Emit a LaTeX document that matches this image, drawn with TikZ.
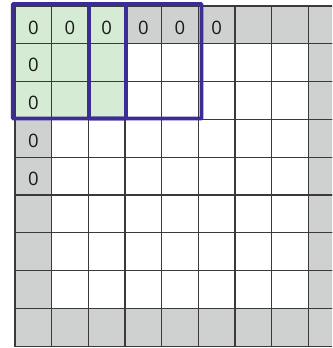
\documentclass[tikz,border=0pt]{standalone}
\usepackage{fontspec}
\setmainfont{Open Sans}
\definecolor{padgray}{HTML}{CFD1D1}
\definecolor{kergreen}{HTML}{D5EBD3}
\definecolor{winblue}{HTML}{3A2D96}
\definecolor{gridline}{HTML}{3A3A3A}

\begin{document}
\begin{tikzpicture}[
    x=1pt, y=-1pt,
    every node/.style={font=\fontsize{18.5}{18.5}\selectfont},
    cell/.style={draw=gridline, line width=1.3pt},
    zero/.style={inner sep=0pt, text=black!90},
    win/.style={draw=winblue, line width=3.8pt, rounded corners=0.8pt},
]
\useasboundingbox (0,0) rectangle (332,348);
\clip (0,0) rectangle (332,348);

% ============================================================ the padded grid
\foreach \i in {0,...,8}{
  \foreach \j in {0,...,8}{
    \pgfmathsetmacro{\xa}{15+36.66*\i}
    \pgfmathsetmacro{\ya}{6+37.8*\j}
    \ifnum\i=0 \def\fc{padgray}\else
      \ifnum\i=8 \def\fc{padgray}\else
        \ifnum\j=0 \def\fc{padgray}\else
          \ifnum\j=8 \def\fc{padgray}\else \def\fc{white}\fi
        \fi
      \fi
    \fi
    \ifnum\i<3 \ifnum\j<3 \def\fc{kergreen}\fi\fi
    \filldraw[cell, fill=\fc] (\xa,\ya) rectangle ++(36.66,37.8);
  }
}

% zeros along the top row and the left column
\foreach \i in {0,...,5}{
  \node[zero] (top-\i) at ({33.33+36.66*\i}, 27.5) {0};
}
\foreach \j in {1,...,4}{
  \node[zero] (left-\j) at (33.33, {27.5+37.8*\j}) {0};
}

% ============================================================ two window positions
\draw[win] (12.8,4) rectangle (126,118.5);
\draw[win] (89,4) rectangle (201.5,118.5);

\end{tikzpicture}
\end{document}
